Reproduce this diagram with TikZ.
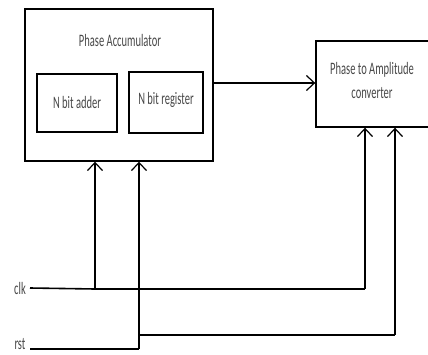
\documentclass[tikz,border=0pt]{standalone}
\usepackage{fontspec}
\setmainfont{Carlito}
\newfontfamily\condfont[FakeStretch=0.6]{Carlito}
\usetikzlibrary{arrows.meta}
\begin{document}
\begin{tikzpicture}[x=1pt,y=-1pt,
  blk/.style={draw,line width=1.4pt,inner sep=0pt},
  lbl/.style={font=\condfont\fontsize{17.5}{24}\selectfont,text=black!72,inner sep=0pt},
  wire/.style={line width=1.6pt},
  arr/.style={wire,-{Straight Barb[length=8pt,width=15pt,line width=1.2pt]}}]
\useasboundingbox (0,0) rectangle (428,354);
\node[blk,minimum width=188pt,minimum height=152pt] (acc) at (119,85) {};
\node[lbl] (acct) at (120,40) {Phase Accumulator};
\node[blk,minimum width=80pt,minimum height=58pt] (adder) at (77,103) {};
\node[lbl] (addt) at (77,102) {N bit adder};
\node[blk,minimum width=74pt,minimum height=61pt] (reg) at (166,102.5) {};
\node[lbl] (regt) at (166,100) {N bit register};
\begin{scope}
\clip (0,0) rectangle (428,354);
\node[blk,minimum width=114pt,minimum height=86pt] (conv) at (373,84) {};
\end{scope}
\node[lbl,align=center] (convt) at (372,80) {Phase to Amplitude\\converter};
\node[lbl] (clk) at (20,288) {clk};
\node[lbl,anchor=south] (rst) at (20,350) {rst};
\coordinate (clkj) at (95,289);
\coordinate (clkr) at (365,289);
\coordinate (rstj) at (139,349);
\coordinate (rstb) at (139,335);
\coordinate (rstr) at (395,335);
\draw[arr] (acc.east |- 0,83) -- (conv.west |- 0,83);
\draw[wire] (30,288) -- (clkj);
\draw[arr] (clkj) -- (acc.south -| clkj);
\draw[wire] (clkj) -- (clkr);
\draw[arr] (clkr) -- (conv.south -| clkr);
\draw[wire] (30,349) -- (rstj);
\draw[arr] (rstj) -- (acc.south -| rstj);
\draw[wire] (rstb) -- (rstr);
\draw[arr] (rstr) -- (conv.south -| rstr);
\end{tikzpicture}
\end{document}
